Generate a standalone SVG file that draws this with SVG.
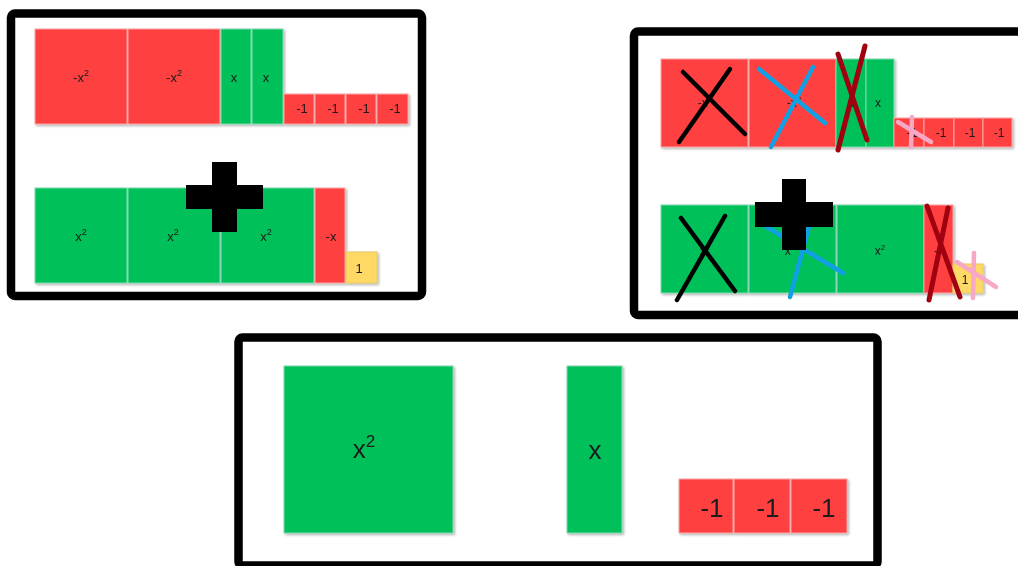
<svg xmlns="http://www.w3.org/2000/svg" width="1018" height="566" viewBox="0 0 1018 566">
<defs>
<filter id="sh" x="-10%" y="-10%" width="130%" height="130%">
<feDropShadow dx="1.5" dy="1.5" stdDeviation="1.2" flood-color="#000" flood-opacity="0.3"/>
</filter>
<style>
.frame{fill:#fff;stroke:#000;stroke-width:8.5}
.r{fill:#FF4040;stroke:#F7A5A5;stroke-width:1}
.g{fill:#00C05A;stroke:#7FD8B0;stroke-width:1}
.y{fill:#FFD966;stroke:#E8C860;stroke-width:1}
.t{font-family:"Liberation Sans",Arial,sans-serif;font-size:13px;fill:#1a1a1a;text-anchor:middle}
.t2{font-family:"Liberation Sans",Arial,sans-serif;font-size:12px;fill:#1a1a1a;text-anchor:middle}
.t3{font-family:"Liberation Sans",Arial,sans-serif;font-size:26px;fill:#1a1a1a;text-anchor:middle}
.plus{fill:#000}
.mk{fill:none;stroke-linecap:round;stroke-width:4.5}
.bk{stroke:#000}
.bl{stroke:#12A0E4}
.dr{stroke:#A00010;stroke-width:5}
.pk{stroke:#F7A8C6}
</style>
</defs>
<rect width="1018" height="566" fill="#fff"/>

<g id="panel1">
<rect class="frame" x="11" y="13.5" width="411" height="282.5" rx="4"/>
<g filter="url(#sh)">
<g id="p1-negx2-a"><rect class="r" x="35" y="29" width="92" height="95"/><text class="t" x="81" y="82">-x<tspan dy="-6" font-size="9">2</tspan></text></g>
<g id="p1-negx2-b"><rect class="r" x="128" y="29" width="92" height="95"/><text class="t" x="174" y="82">-x<tspan dy="-6" font-size="9">2</tspan></text></g>
<g id="p1-x-a"><rect class="g" x="221" y="29" width="30" height="95"/><text class="t" x="234" y="82">x</text></g>
<g id="p1-x-b"><rect class="g" x="252" y="29" width="31" height="95"/><text class="t" x="266" y="82">x</text></g>
<g id="p1-neg1-a"><rect class="r" x="284" y="94" width="30" height="30"/><text class="t" x="302" y="113">-1</text></g>
<g id="p1-neg1-b"><rect class="r" x="315" y="94" width="30" height="30"/><text class="t" x="333" y="113">-1</text></g>
<g id="p1-neg1-c"><rect class="r" x="346" y="94" width="30" height="30"/><text class="t" x="364" y="113">-1</text></g>
<g id="p1-neg1-d"><rect class="r" x="377" y="94" width="31" height="30"/><text class="t" x="395" y="113">-1</text></g>
<g id="p1-x2-a"><rect class="g" x="35" y="188" width="92" height="95"/><text class="t" x="81" y="241">x<tspan dy="-6" font-size="9">2</tspan></text></g>
<g id="p1-x2-b"><rect class="g" x="128" y="188" width="92" height="95"/><text class="t" x="173" y="241">x<tspan dy="-6" font-size="9">2</tspan></text></g>
<g id="p1-x2-c"><rect class="g" x="221" y="188" width="93" height="95"/><text class="t" x="266" y="241">x<tspan dy="-6" font-size="9">2</tspan></text></g>
<g id="p1-negx"><rect class="r" x="315" y="188" width="30" height="95"/><text class="t" x="331" y="241">-x</text></g>
<g id="p1-one"><rect class="y" x="346" y="252" width="31" height="31"/><text class="t" x="359" y="273">1</text></g>
</g>
<g id="p1-plus" class="plus"><rect x="212" y="162" width="25" height="70"/><rect x="186" y="185" width="77" height="24"/></g>
</g>

<g id="panel2">
<rect class="frame" x="634" y="31.5" width="420" height="283.5" rx="4"/>
<g filter="url(#sh)">
<g id="p2-negx2-a"><rect class="r" x="661" y="59" width="87" height="88"/><text class="t2" x="705" y="107">-x<tspan dy="-5" font-size="8">2</tspan></text></g>
<g id="p2-negx2-b"><rect class="r" x="749" y="59" width="87" height="88"/><text class="t2" x="794" y="107">-x<tspan dy="-5" font-size="8">2</tspan></text></g>
<g id="p2-x-a"><rect class="g" x="836" y="59" width="30" height="88"/><text class="t2" x="851" y="107">x</text></g>
<g id="p2-x-b"><rect class="g" x="866" y="59" width="28" height="88"/><text class="t2" x="878" y="107">x</text></g>
<g id="p2-neg1-a"><rect class="r" x="894" y="118" width="30" height="29"/><text class="t2" x="912" y="137">-1</text></g>
<g id="p2-neg1-b"><rect class="r" x="924" y="118" width="30" height="29"/><text class="t2" x="941" y="137">-1</text></g>
<g id="p2-neg1-c"><rect class="r" x="954" y="118" width="29" height="29"/><text class="t2" x="970" y="137">-1</text></g>
<g id="p2-neg1-d"><rect class="r" x="983" y="118" width="29" height="29"/><text class="t2" x="999" y="137">-1</text></g>
<g id="p2-x2-a"><rect class="g" x="661" y="205" width="87" height="88"/><text class="t2" x="705" y="255">x<tspan dy="-5" font-size="8">2</tspan></text></g>
<g id="p2-x2-b"><rect class="g" x="749" y="205" width="87" height="88"/><text class="t2" x="790" y="255">x<tspan dy="-5" font-size="8">2</tspan></text></g>
<g id="p2-x2-c"><rect class="g" x="837" y="205" width="87" height="88"/><text class="t2" x="880" y="255">x<tspan dy="-5" font-size="8">2</tspan></text></g>
<g id="p2-negx"><rect class="r" x="924" y="205" width="29" height="88"/><text class="t2" x="939" y="255">-x</text></g>
<g id="p2-one"><rect class="y" x="953" y="264" width="30" height="29"/><text class="t2" x="965" y="284">1</text></g>
</g>
<g id="p2-marks">
<line class="mk bk" x1="683" y1="72" x2="745" y2="134"/>
<line class="mk bk" x1="730" y1="69" x2="679" y2="142"/>
<line class="mk bl" x1="759" y1="69" x2="825" y2="123"/>
<line class="mk bl" x1="813" y1="67" x2="771" y2="147"/>
<line class="mk dr" x1="838" y1="54" x2="867" y2="140"/>
<line class="mk dr" x1="865" y1="46" x2="838" y2="150"/>
<line class="mk pk" x1="898" y1="122" x2="931" y2="142"/>
<line class="mk pk" x1="912" y1="117" x2="911" y2="147"/>
<line class="mk bk" x1="681" y1="218" x2="735" y2="291"/>
<line class="mk bk" x1="725" y1="216" x2="677" y2="300"/>
<line class="mk bl" x1="760" y1="223" x2="843" y2="273"/>
<line class="mk bl" x1="814" y1="208" x2="790" y2="297"/>
<line class="mk dr" x1="927" y1="206" x2="960" y2="297"/>
<line class="mk dr" x1="948" y1="208" x2="929" y2="300"/>
<line class="mk pk" x1="974" y1="253" x2="973" y2="298"/>
<line class="mk pk" x1="957" y1="262" x2="996" y2="287"/>
</g>
<g id="p2-plus" class="plus"><rect x="782" y="179" width="24" height="71"/><rect x="755" y="202" width="78" height="25"/></g>
</g>

<g id="panel3">
<rect class="frame" x="238.5" y="337.5" width="639" height="228" rx="4"/>
<g filter="url(#sh)">
<g id="p3-x2"><rect class="g" x="284" y="366" width="169" height="167"/><text class="t3" x="364" y="458">x<tspan dy="-11" font-size="17">2</tspan></text></g>
<g id="p3-x"><rect class="g" x="567" y="366" width="55" height="167"/><text class="t3" x="595" y="459">x</text></g>
<g id="p3-neg1-a"><rect class="r" x="679" y="479" width="54" height="54"/><text class="t3" x="712" y="517">-1</text></g>
<g id="p3-neg1-b"><rect class="r" x="734" y="479" width="56" height="54"/><text class="t3" x="768" y="517">-1</text></g>
<g id="p3-neg1-c"><rect class="r" x="791" y="479" width="56" height="54"/><text class="t3" x="824" y="517">-1</text></g>
</g>
</g>
</svg>
